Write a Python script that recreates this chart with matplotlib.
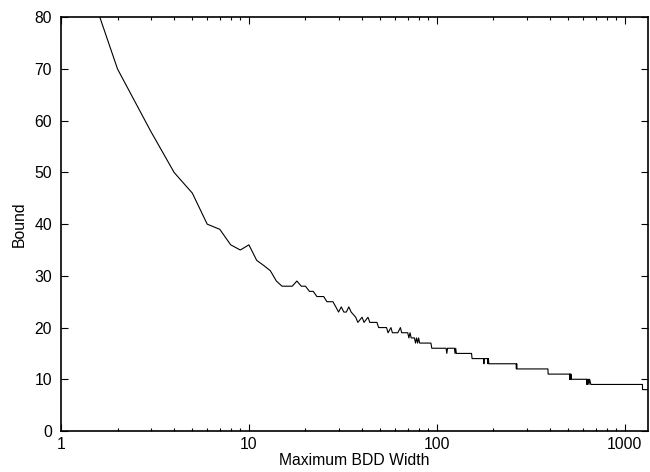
import matplotlib
matplotlib.use("Agg")
import matplotlib.pyplot as plt
from matplotlib.ticker import LogLocator, NullFormatter, FixedLocator

plt.rcParams['font.family'] = ['Liberation Sans', 'DejaVu Sans']

# max BDD width vs bound
widths = [1, 2, 3, 4, 5, 6, 7, 8, 9, 10, 11, 12, 13, 14, 15, 17, 18, 19, 20,
          21, 22, 23, 25, 26, 28, 29, 30, 31, 32, 33, 34, 35, 37, 38, 40, 41,
          43, 44, 48, 49, 54, 55, 57, 58, 62, 64, 65, 70, 71, 72, 73, 76, 77,
          78, 79, 80, 81, 93, 94, 112, 113, 114, 124, 125, 126, 127, 153, 154,
          177, 178, 179, 186, 187, 188, 189, 264, 265, 266, 267, 390, 391, 508,
          509, 510, 512, 513, 515, 517, 520, 628, 629, 631, 633, 640, 645, 650,
          660, 1242, 1243, 1330]
bounds = [102, 70, 58, 50, 46, 40, 39, 36, 35, 36, 33, 32, 31, 29, 28, 28, 29,
          28, 28, 27, 27, 26, 26, 25, 25, 24, 23, 24, 23, 23, 24, 23, 22, 21,
          22, 21, 22, 21, 21, 20, 20, 19, 20, 19, 19, 20, 19, 19, 18, 19, 18,
          18, 17, 18, 17, 18, 17, 17, 16, 16, 15, 16, 16, 15, 16, 15, 15, 14,
          14, 13, 14, 14, 13, 14, 13, 13, 12, 13, 12, 12, 11, 11, 10, 11, 10,
          11, 10, 11, 10, 10, 9, 10, 9, 10, 9, 10, 9, 9, 8, 8]

yticks = [0, 10, 20, 30, 40, 50, 60, 70, 80]
xticks = [1, 10, 100, 1000]

fig = plt.figure(figsize=(6.5, 4.72), dpi=100)
ax = fig.add_axes([0.0938, 0.0869, 0.9032, 0.8764])

ax.plot(widths, bounds, color='black', lw=0.8)

ax.set_xscale('log')
ax.set_xlim(1, 1330)
ax.set_ylim(0, 80)
ax.xaxis.set_major_locator(FixedLocator(xticks))
ax.set_xticklabels([str(t) for t in xticks])
ax.xaxis.set_minor_locator(LogLocator(base=10, subs=range(2, 10)))
ax.xaxis.set_minor_formatter(NullFormatter())
ax.set_yticks(yticks)

ax.tick_params(which='both', direction='in', top=True, right=True,
               labelsize=11.3, colors='black', width=0.8)
ax.tick_params(which='major', length=5)
ax.tick_params(axis='x', which='major', pad=4)
ax.tick_params(axis='y', which='major', pad=6.5)
ax.tick_params(which='minor', length=2.5)
for s in ax.spines.values():
    s.set_linewidth(1.2)

ax.set_xlabel('Maximum BDD Width', fontsize=11.3, labelpad=1)
ax.set_ylabel('Bound', fontsize=11.3, labelpad=5)

fig.savefig('out.png', dpi=100)
